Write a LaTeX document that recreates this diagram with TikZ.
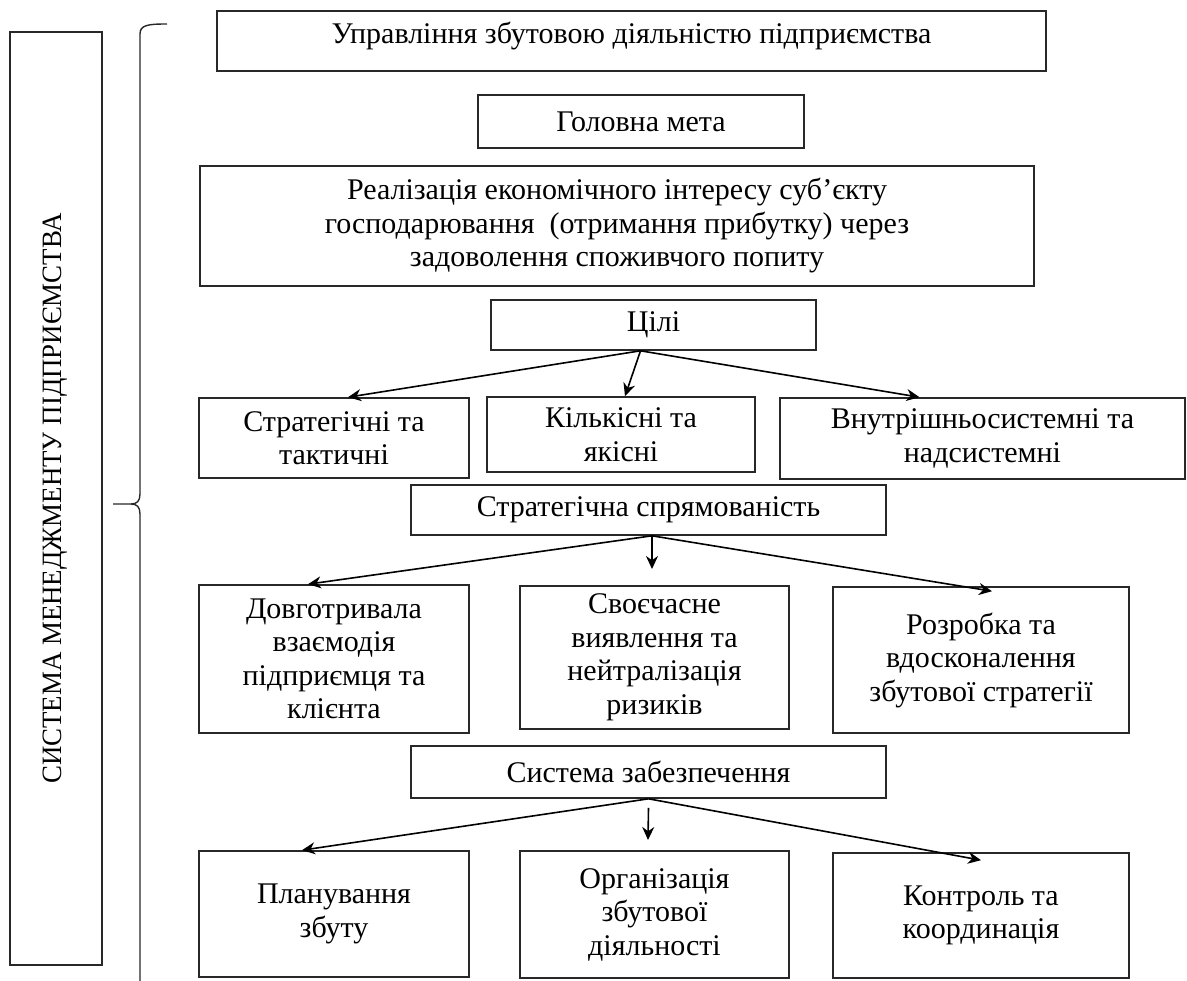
\documentclass[tikz,border=0pt]{standalone}
\usepackage{fontspec}
\setmainfont{Liberation Serif}
\usepackage{tikz}
\usetikzlibrary{arrows.meta, positioning}
\definecolor{LineGray}{RGB}{40,40,40}

\begin{document}
\begin{tikzpicture}[x=1pt,y=-1pt,
        box/.style={draw=LineGray,line width=1.6pt,inner sep=2pt,
                    align=center,font=\fontsize{30}{33.5}\selectfont},
        arrow/.style={-{Stealth[length=13pt,width=12pt]},line width=1.6pt,black},
        brace/.style={line width=1.4pt,LineGray}]
        \useasboundingbox (0,0) rectangle (1187,981);
        % left frame with the system name
        \node[box,minimum width=92,minimum height=933] (sys) at (56,498.5) {};
        \node[rotate=90,font=\fontsize{28}{30}\selectfont] (sysname) at (55,498.5)
              {\scalebox{0.96}[1]{СИСТЕМА МЕНЕДЖМЕНТУ ПІДПРИЄМСТВА}};
        % brace
        \draw[brace] (167,24) .. controls (148,24) and (140,25) .. (140,34) -- (140,494)
              .. controls (140,501) and (137,504) .. (131,504) -- (113,504);
        \draw[brace] (131,504) .. controls (137,504) and (140,507) .. (140,514) -- (140,981);
        % main column
        \node[box,minimum width=829,minimum height=60,text depth=17pt] (mgmt) at (631.5,41)
              {Управління збутовою діяльністю підприємства};
        \node[box,minimum width=326,minimum height=53] (goal) at (641,121.5) {Головна мета};
        \node[box,minimum width=834,minimum height=120] (interest) at (617,226)
              {Реалізація економічного інтересу суб’єкту\\
               господарювання~~(отримання прибутку) через\\
               задоволення споживчого попиту};
        \node[box,minimum width=325,minimum height=50] (aims) at (653.5,325) {Цілі};
        \node[box,minimum width=270,minimum height=80] (strat) at (334,438)
              {Стратегічні та\\тактичні};
        \node[box,minimum width=268,minimum height=75] (quant) at (621,434.5)
              {Кількісні та\\якісні};
        \node[box,minimum width=405,minimum height=81] (inner) at (982.5,438.5)
              {Внутрішньосистемні та\\надсистемні};
        \node[box,minimum width=475,minimum height=50] (direct) at (648.5,510)
              {Стратегічна спрямованість};
        \node[box,minimum width=270,minimum height=148] (longterm) at (334,659)
              {Довготривала\\взаємодія\\підприємця та\\клієнта};
        \node[box,minimum width=269,minimum height=143] (risks) at (654.5,657.5)
              {Своєчасне\\виявлення та\\нейтралізація\\ризиків};
        \node[box,minimum width=296,minimum height=146] (develop) at (981,660)
              {Розробка та\\вдосконалення\\збутової стратегії};
        \node[box,minimum width=475,minimum height=52] (support) at (648.5,772)
              {Система забезпечення};
        \node[box,minimum width=270,minimum height=126] (plan) at (334,914)
              {Планування\\збуту};
        \node[box,minimum width=269,minimum height=127] (organ) at (654.5,914.5)
              {Організація\\збутової\\діяльності};
        \node[box,minimum width=296,minimum height=125] (control) at (981,915.5)
              {Контроль та\\координація};
        % arrows
        \coordinate (dirmid) at (652,569);
        \coordinate (supmid) at (648,840);
        \draw[arrow] ([xshift=-13]aims.south) -- ([xshift=14]strat.north);
        \draw[arrow] ([xshift=-13]aims.south) -- ([xshift=4]quant.north);
        \draw[arrow] ([xshift=-13]aims.south) -- ([xshift=-63]inner.north);
        \draw[arrow] ([xshift=3.5]direct.south) -- ([xshift=-26]longterm.north);
        \draw[arrow] ([xshift=3.5]direct.south) -- (dirmid);
        \draw[arrow] ([xshift=3.5]direct.south) -- ([xshift=11,yshift=-5]develop.north);
        \draw[arrow] (support.south) -- ([xshift=-32]plan.north);
        \draw[arrow] ([yshift=-9]support.south) -- (supmid);
        \draw[arrow] (support.south) -- ([yshift=-8]control.north);
\end{tikzpicture}
\end{document}
